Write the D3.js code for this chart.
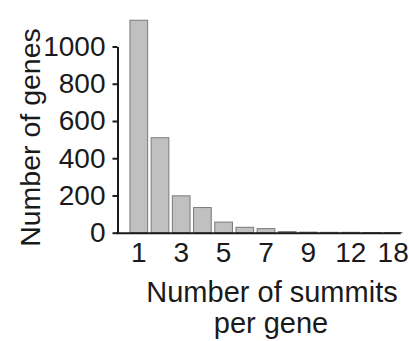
<!DOCTYPE html>
<html>
<head>
<meta charset="utf-8">
<script src="https://cdn.jsdelivr.net/npm/d3@7"></script>
<style>
  html, body { margin: 0; padding: 0; background: #fff; }
  svg { display: block; font-family: 'Liberation Sans', Arial, sans-serif; }
</style>
</head>
<body>
<div id="chart"></div>
<script>
// summits per gene (unlabelled bins in between kept as their own categories)
const categories = ['1', '2', '3', '4', '5', '6', '7', '8', '9', '10', '12', '14', '18'];
const geneCounts = [1141, 510, 198, 135, 57, 29, 22, 6, 3, 2, 2, 1, 1];
const xTickLabels = ['1', '3', '5', '7', '9', '12', '18'];
const yTicks = [0, 200, 400, 600, 800, 1000];

const width = 409;
const height = 341;
const textColor = '#1a1a1a';

const svg = d3.select('#chart')
  .append('svg')
  .attr('width', width)
  .attr('height', height);

const x = d3.scaleBand()
  .domain(categories)
  .range([128.2, 403.8])
  .paddingInner(0.165)
  .paddingOuter(0.0825);

const y = d3.scaleLinear()
  .domain([0, 1000])
  .range([232.7, 46.5]);

const axisX = 117.5;

// Bars
svg.append('g')
  .selectAll('rect')
  .data(categories.map((c, i) => ({ c, v: geneCounts[i] })))
  .join('rect')
  .attr('x', d => x(d.c))
  .attr('y', d => y(d.v))
  .attr('width', x.bandwidth())
  .attr('height', d => y(0) - y(d.v))
  .attr('fill', '#c0c0c0')
  .attr('stroke', '#7a7a7a')
  .attr('stroke-width', 1);

// Y axis
const gy = svg.append('g')
  .attr('transform', `translate(${axisX},0)`)
  .call(d3.axisLeft(y).tickValues(yTicks).tickFormat(d3.format('d'))
    .tickSize(5).tickSizeOuter(0).tickPadding(7));
gy.select('.domain').attr('stroke', textColor).attr('stroke-width', 2);
gy.selectAll('.tick line').attr('stroke', textColor).attr('stroke-width', 2);
gy.selectAll('.tick text')
  .attr('fill', textColor)
  .attr('font-size', 28)
  .attr('font-family', "'Liberation Sans', Arial, sans-serif");

// X axis (labels only, line drawn separately so it joins the y axis)
const gx = svg.append('g')
  .attr('transform', `translate(0,${y(0)})`)
  .call(d3.axisBottom(x).tickValues(xTickLabels).tickSize(0).tickPadding(9));
gx.select('.domain').remove();
gx.selectAll('.tick text')
  .attr('fill', textColor)
  .attr('font-size', 28)
  .attr('font-family', "'Liberation Sans', Arial, sans-serif");

svg.append('line')
  .attr('x1', axisX - 1)
  .attr('x2', x.range()[1] - 3)
  .attr('y1', y(0) + 0.5)
  .attr('y2', y(0) + 0.5)
  .attr('stroke', textColor)
  .attr('stroke-width', 2);

// Axis titles
svg.append('text')
  .attr('transform', 'translate(39.5,137.5) rotate(-90)')
  .attr('text-anchor', 'middle')
  .attr('font-size', 28.5)
  .attr('fill', textColor)
  .text('Number of genes');

const xTitle = svg.append('text')
  .attr('text-anchor', 'middle')
  .attr('font-size', 29)
  .attr('fill', textColor);
xTitle.append('tspan').attr('x', 272).attr('y', 301.5).text('Number of summits');
xTitle.append('tspan').attr('x', 271).attr('y', 333).text('per gene');
</script>
</body>
</html>
